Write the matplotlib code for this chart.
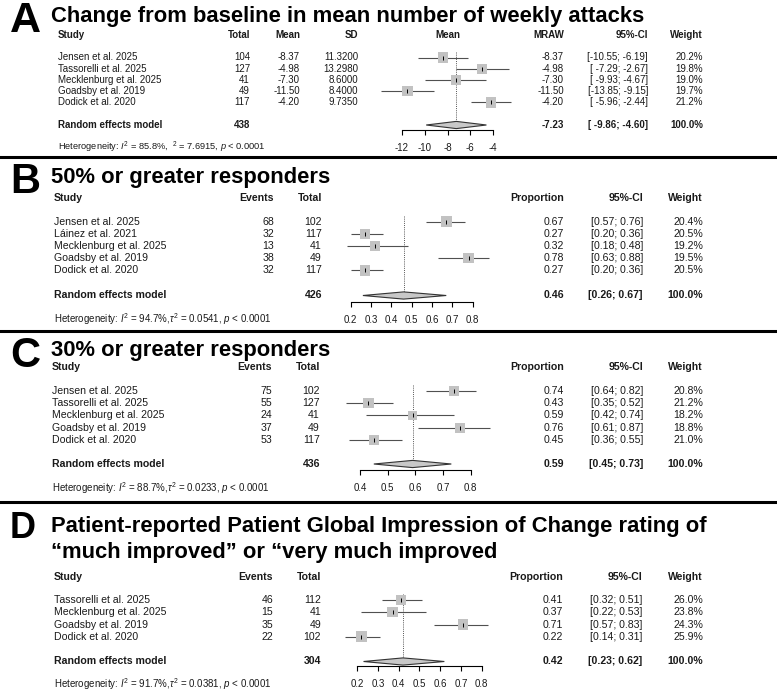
import matplotlib

matplotlib.use("Agg")
import matplotlib.pyplot as plt
import numpy as np

plt.rcParams["font.family"] = ["Liberation Sans", "DejaVu Sans"]
plt.rcParams["axes.unicode_minus"] = False
plt.rcParams["mathtext.fontset"] = "custom"
plt.rcParams["mathtext.rm"] = "Liberation Sans"
plt.rcParams["mathtext.it"] = "Liberation Sans:italic"
plt.rcParams["mathtext.bf"] = "Liberation Sans:bold"

W, H = 777, 692

# --- A: change from baseline in weekly attacks
studies_a = ["Jensen et al. 2025", "Tassorelli et al. 2025", "Mecklenburg et al. 2025",
             "Goadsby et al. 2019", "Dodick et al. 2020"]
total_a = [104, 127, 41, 49, 117]
mean_a = [-8.37, -4.98, -7.30, -11.50, -4.20]
sd_a = [11.3200, 13.2980, 8.6000, 8.4000, 9.7350]
lo_a = [-10.55, -7.29, -9.93, -13.85, -5.96]
hi_a = [-6.19, -2.67, -4.67, -9.15, -2.44]
weight_a = [20.2, 19.8, 19.0, 19.7, 21.2]
pooled_a = [-7.23, -9.86, -4.60]
pooled_total_a = 438
het_a = r"Heterogeneity: $I^2$ = 85.8%,  ${}^2$ = 7.6915, $p$ < 0.0001"
ticks_a = [-12, -10, -8, -6, -4]

# --- B: 50% responders
studies_b = ["Jensen et al. 2025", "Láinez et al. 2021", "Mecklenburg et al. 2025",
             "Goadsby et al. 2019", "Dodick et al. 2020"]
events_b = [68, 32, 13, 38, 32]
total_b = [102, 117, 41, 49, 117]
prop_b = [0.67, 0.27, 0.32, 0.78, 0.27]
lo_b = [0.57, 0.20, 0.18, 0.63, 0.20]
hi_b = [0.76, 0.36, 0.48, 0.88, 0.36]
weight_b = [20.4, 20.5, 19.2, 19.5, 20.5]
pooled_b = [0.46, 0.26, 0.67]
pooled_total_b = 426
het_b = r"Heterogeneity: $I^2$ = 94.7%,$\tau^2$ = 0.0541, $p$ < 0.0001"
ticks_b = [0.2, 0.3, 0.4, 0.5, 0.6, 0.7, 0.8]

# --- C: 30% responders
studies_c = ["Jensen et al. 2025", "Tassorelli et al. 2025", "Mecklenburg et al. 2025",
             "Goadsby et al. 2019", "Dodick et al. 2020"]
events_c = [75, 55, 24, 37, 53]
total_c = [102, 127, 41, 49, 117]
prop_c = [0.74, 0.43, 0.59, 0.76, 0.45]
lo_c = [0.64, 0.35, 0.42, 0.61, 0.36]
hi_c = [0.82, 0.52, 0.74, 0.87, 0.55]
weight_c = [20.8, 21.2, 18.2, 18.8, 21.0]
pooled_c = [0.59, 0.45, 0.73]
pooled_total_c = 436
het_c = r"Heterogeneity: $I^2$ = 88.7%,$\tau^2$ = 0.0233, $p$ < 0.0001"
ticks_c = [0.4, 0.5, 0.6, 0.7, 0.8]

# --- D: PGIC much / very much improved
studies_d = ["Tassorelli et al. 2025", "Mecklenburg et al. 2025", "Goadsby et al. 2019",
             "Dodick et al. 2020"]
events_d = [46, 15, 35, 22]
total_d = [112, 41, 49, 102]
prop_d = [0.41, 0.37, 0.71, 0.22]
lo_d = [0.32, 0.22, 0.57, 0.14]
hi_d = [0.51, 0.53, 0.83, 0.31]
weight_d = [26.0, 23.8, 24.3, 25.9]
pooled_d = [0.42, 0.23, 0.62]
pooled_total_d = 304
het_d = r"Heterogeneity: $I^2$ = 91.7%,$\tau^2$ = 0.0381, $p$ < 0.0001"
ticks_d = [0.2, 0.3, 0.4, 0.5, 0.6, 0.7, 0.8]

TXT = "#1a1a1a"


def ci_str(lo, hi, w=4):
    return f"[{lo:{w}.2f}; {hi:.2f}]"


def draw_panel(fig, bg, lay, studies, cols, est, lo, hi, weight, pooled, pooled_cols,
               het, ticks, tick_fmt, forest_header=None):
    fs = lay["fs"]
    rows = [lay["row0"] + i * lay["pitch"] for i in range(len(studies))]
    py = lay["pooled_y"]

    # letter + title
    bg.text(10, lay["letter_y"], lay["letter"], fontsize=lay["letter_fs"], fontweight="bold",
            va="baseline", ha="left", color="black")
    for ty, line in zip(lay["title_y"], lay["title"]):
        bg.text(51, ty, line, fontsize=lay["title_fs"], fontweight="bold",
                va="baseline", ha="left", color="black")

    # table
    hy = lay["header_y"]
    sx = lay["study_x"]
    bg.text(sx, hy, "Study", fontsize=fs, fontweight="bold", va="center", color=TXT)
    for y, s in zip(rows, studies):
        bg.text(sx, y, s, fontsize=fs, va="center", color=TXT)
    bg.text(sx, py, "Random effects model", fontsize=fs, fontweight="bold",
            va="center", color=TXT)
    for (head, vals, x), pv in zip(cols, pooled_cols):
        bg.text(x, hy, head, fontsize=fs, fontweight="bold", va="center", ha="right", color=TXT)
        for y, v in zip(rows, vals):
            bg.text(x, y, v, fontsize=fs, va="center", ha="right", color=TXT)
        if pv:
            bg.text(x, py, pv, fontsize=fs, fontweight="bold", va="center", ha="right",
                    color=TXT)
    bg.text(sx, lay["het_y"], het, fontsize=lay["het_fs"], va="center", color=TXT)

    # forest
    t0, t0px, scale = ticks[0], lay["t0_px"], lay["scale"]
    xlo, xhi = lay["xlim"]

    def px(v):
        return t0px + (v - t0) * scale

    top, bot = hy, lay["axis_y"]
    ax = fig.add_axes([px(xlo) / W, 1 - bot / H, (px(xhi) - px(xlo)) / W, (bot - top) / H])
    ax.set_xlim(xlo, xhi)
    ax.set_ylim(bot, top)
    ax.patch.set_alpha(0)
    if forest_header:
        ax.text(np.mean([ticks[0], ticks[-1]]), hy, forest_header, fontsize=fs,
                fontweight="bold", ha="center", va="center", color=TXT)

    dh = 3.6
    ax.vlines(pooled[0], rows[0] - lay["pitch"] * 0.5, py - dh, colors="#555555",
              linestyles=(0, (1, 1.2)), lw=0.7)
    ax.hlines(rows, lo, hi, colors="#505050", lw=0.8, clip_on=False)
    side = 7.6 * np.sqrt(np.asarray(weight) / max(weight))
    ax.scatter(est, rows, marker="s", s=side ** 2, color="#c2c2c2", lw=0, zorder=3,
               clip_on=False)
    ax.scatter(est, rows, marker="|", s=2.2 ** 2, color="black", linewidths=0.7, zorder=4)
    ax.fill([pooled[1], pooled[0], pooled[2], pooled[0]], [py, py - dh, py, py + dh],
            facecolor="#c8c8c8", edgecolor="#333333", lw=0.8, zorder=3)

    for s in ("top", "left", "right"):
        ax.spines[s].set_visible(False)
    ax.spines["bottom"].set_bounds(ticks[0], ticks[-1])
    ax.spines["bottom"].set_linewidth(0.8)
    ax.set_xticks(ticks)
    ax.set_xticklabels([tick_fmt(t) for t in ticks])
    ax.set_yticks([])
    ax.tick_params(axis="x", direction="out", length=3.6, width=0.8, pad=5.5,
                   labelsize=lay["tick_fs"], labelcolor=TXT)
    return ax


fig = plt.figure(figsize=(W / 100, H / 100), dpi=100)
bg = fig.add_axes([0, 0, 1, 1])
bg.set_xlim(0, W)
bg.set_ylim(H, 0)
bg.axis("off")

# panel A
lay_a = dict(letter="A", letter_y=32, letter_fs=31,
             title=["Change from baseline in mean number of weekly attacks"],
             title_y=[22], title_fs=15.8, header_y=35, row0=57.5, pitch=11.2, pooled_y=125,
             axis_y=130, het_y=147, study_x=58, fs=7.0, het_fs=6.7, tick_fs=7.0,
             t0_px=401.7, scale=11.45, xlim=(-14.5, -2.0))
cols_a = [("Total", [str(v) for v in total_a], 250),
          ("Mean", [f"{v:.2f}" for v in mean_a], 300),
          ("SD", [f"{v:.4f}" for v in sd_a], 358),
          ("MRAW", [f"{v:.2f}" for v in mean_a], 564),
          ("95%-CI", [ci_str(a, b, 6) for a, b in zip(lo_a, hi_a)], 648),
          ("Weight", [f"{v:.1f}%" for v in weight_a], 703)]
pcols_a = [str(pooled_total_a), "", "", f"{pooled_a[0]:.2f}",
           ci_str(pooled_a[1], pooled_a[2], 6), "100.0%"]
draw_panel(fig, bg, lay_a, studies_a, cols_a, mean_a, lo_a, hi_a, weight_a, pooled_a,
           pcols_a, het_a, ticks_a, lambda t: f"{t:d}", forest_header="Mean")


def prop_cols(events, total, prop, lo, hi, weight, xs):
    return [("Events", [str(v) for v in events], xs[0]),
            ("Total", [str(v) for v in total], xs[1]),
            ("Proportion", [f"{v:.2f}" for v in prop], xs[2]),
            ("95%-CI", [ci_str(a, b) for a, b in zip(lo, hi)], xs[3]),
            ("Weight", [f"{v:.1f}%" for v in weight], xs[4])]


def prop_pooled(total, pooled):
    return ["", str(total), f"{pooled[0]:.2f}", ci_str(pooled[1], pooled[2]), "100.0%"]


lay_b = dict(letter="B", letter_y=193, letter_fs=30, title=["50% or greater responders"],
             title_y=[183], title_fs=15.8, header_y=198, row0=221.7, pitch=12.15,
             pooled_y=295.5, axis_y=302, het_y=319.5, study_x=54, fs=7.6, het_fs=7.0,
             tick_fs=7.0, t0_px=350.7, scale=203.3, xlim=(0.1, 0.9))
draw_panel(fig, bg, lay_b, studies_b,
           prop_cols(events_b, total_b, prop_b, lo_b, hi_b, weight_b, [274, 322, 564, 643, 703]),
           prop_b, lo_b, hi_b, weight_b, pooled_b, prop_pooled(pooled_total_b, pooled_b),
           het_b, ticks_b, lambda t: f"{t:.1f}")

lay_c = dict(letter="C", letter_y=367, letter_fs=30, title=["30% or greater responders"],
             title_y=[356], title_fs=15.8, header_y=367, row0=391, pitch=12.2,
             pooled_y=464, axis_y=470, het_y=488.5, study_x=52, fs=7.6, het_fs=7.0,
             tick_fs=7.0, t0_px=360, scale=276.7, xlim=(0.3, 0.9))
draw_panel(fig, bg, lay_c, studies_c,
           prop_cols(events_c, total_c, prop_c, lo_c, hi_c, weight_c, [272, 320, 564, 643, 703]),
           prop_c, lo_c, hi_c, weight_c, pooled_c, prop_pooled(pooled_total_c, pooled_c),
           het_c, ticks_c, lambda t: f"{t:.1f}")

lay_d = dict(letter="D", letter_y=538, letter_fs=26,
             title=["Patient-reported Patient Global Impression of Change rating of",
                    "\u201cmuch improved\u201d or \u201cvery much improved"],
             title_y=[532, 558], title_fs=15.8, header_y=577, row0=600, pitch=12.25,
             pooled_y=661.5, axis_y=666, het_y=684, study_x=54, fs=7.6, het_fs=7.0,
             tick_fs=7.0, t0_px=357.3, scale=207.3, xlim=(0.1, 0.9))
draw_panel(fig, bg, lay_d, studies_d,
           prop_cols(events_d, total_d, prop_d, lo_d, hi_d, weight_d, [273, 321, 563, 642, 703]),
           prop_d, lo_d, hi_d, weight_d, pooled_d, prop_pooled(pooled_total_d, pooled_d),
           het_d, ticks_d, lambda t: f"{t:.1f}")

for y in (157, 331, 502):
    bg.axhline(y, color="black", lw=2.2)

fig.savefig("out.png", dpi=100)
